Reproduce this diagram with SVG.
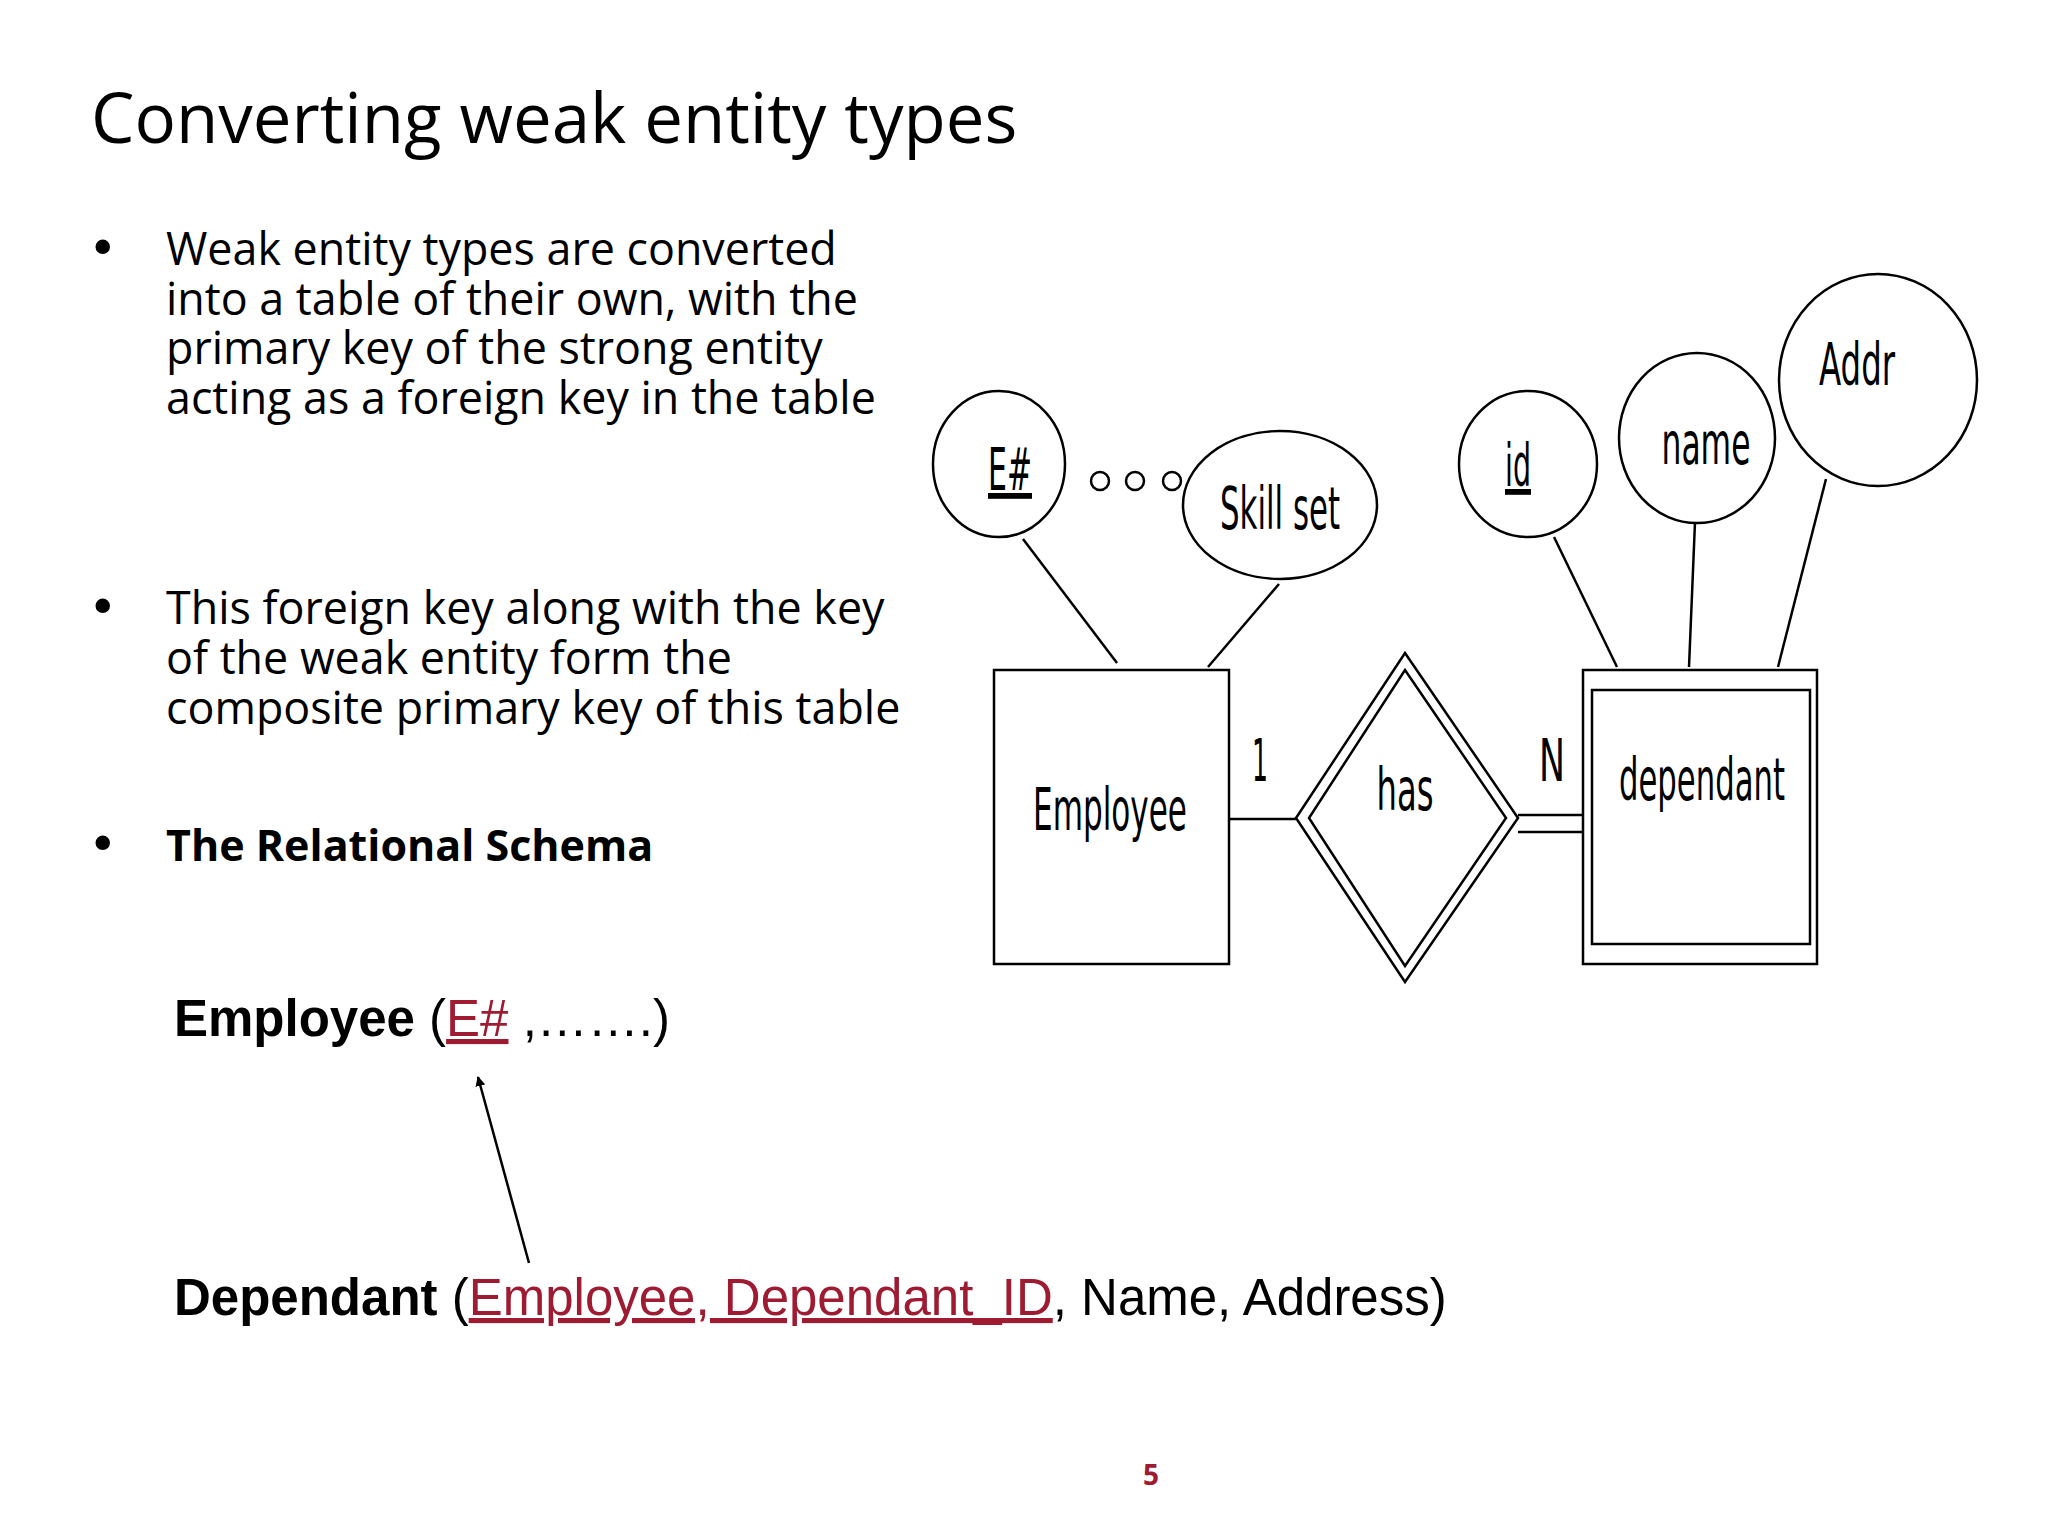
<svg xmlns="http://www.w3.org/2000/svg" width="2048" height="1536" viewBox="0 0 2048 1536">
<style>
.t{font-family:"Open Sans","Noto Sans",sans-serif;fill:#000}
.b{font-family:"Open Sans","Noto Sans",sans-serif;font-size:44.8px}
.bl{font-family:"DejaVu Sans",sans-serif;font-size:50px}
.a{font-family:"Liberation Sans",Arial,sans-serif;font-size:51px}
.r{fill:#9e1b32;text-decoration:underline}
.s{fill:none;stroke:#000;stroke-width:2.5}
.e{font-family:"DejaVu Sans","Liberation Sans",sans-serif;font-size:58px;text-anchor:middle}
</style>
<defs><marker id="ah" markerWidth="10" markerHeight="10" refX="9" refY="5" orient="auto" markerUnits="userSpaceOnUse" viewBox="0 0 10 10"><path d="M0,0 L10,5 L0,10 z"/></marker></defs>
<rect width="2048" height="1536" fill="#fff"/>
<text class="t" x="91" y="143" font-size="69">Converting weak entity types</text>
<g class="bl">
<text x="88" y="265">•</text>
<text x="88" y="624">•</text>
<text x="88" y="861">•</text>
</g>
<g class="b">
<text x="166" y="265">Weak entity types are converted</text>
<text x="166" y="315">into a table of their own, with the</text>
<text x="166" y="364">primary key of the strong entity</text>
<text x="166" y="414">acting as a foreign key in the table</text>
<text x="166" y="624">This foreign key along with the key</text>
<text x="166" y="674">of the weak entity form the</text>
<text x="166" y="724">composite primary key of this table</text>
<text x="166" y="861" font-weight="bold" font-size="43">The Relational Schema</text>
</g>
<text class="a" x="174" y="1036"><tspan font-weight="bold">Employee</tspan> (<tspan class="r">E#</tspan> ,…….)</text>
<text class="a" x="174" y="1315"><tspan font-weight="bold">Dependant</tspan> (<tspan class="r">Employee, Dependant_ID</tspan>, Name, Address)</text>
<g id="connectors">
<line x1="529" y1="1263" x2="478" y2="1077" stroke="#000" stroke-width="2.5" marker-end="url(#ah)"/>
<line class="s" x1="1229" y1="819" x2="1296" y2="819"/>
<line class="s" x1="1518" y1="815" x2="1583" y2="815"/>
<line class="s" x1="1518" y1="832" x2="1583" y2="832"/>
<line class="s" x1="1023" y1="539" x2="1117" y2="663"/>
<line class="s" x1="1279" y1="584" x2="1208" y2="667"/>
<line class="s" x1="1554" y1="537" x2="1617" y2="667"/>
<line class="s" x1="1695" y1="522" x2="1689" y2="667"/>
<line class="s" x1="1826" y1="479" x2="1778" y2="667"/>
<text class="e" x="1260" y="781" textLength="16" lengthAdjust="spacingAndGlyphs">1</text>
<text class="e" x="1552" y="781" textLength="26" lengthAdjust="spacingAndGlyphs">N</text>
</g>
<g id="employee"><rect class="s" x="994" y="670" width="235" height="294" stroke-width="3.5"/><text class="e" x="1110" y="830" textLength="154" lengthAdjust="spacingAndGlyphs">Employee</text></g>
<g id="has"><polygon class="s" points="1405,653 1518,818 1405,982 1296,818"/><polygon class="s" points="1405,670 1506,818 1405,966 1309,818"/><text class="e" x="1405" y="810" textLength="57" lengthAdjust="spacingAndGlyphs">has</text></g>
<g id="dependant"><rect class="s" x="1583" y="670" width="234" height="294" stroke-width="3.5"/><rect class="s" x="1592" y="690" width="218" height="254" stroke-width="3.5"/><text class="e" x="1702" y="800" textLength="166" lengthAdjust="spacingAndGlyphs">dependant</text></g>
<g id="eno"><ellipse class="s" cx="999" cy="464" rx="66" ry="73"/><text class="e" x="1010" y="490" textLength="44" lengthAdjust="spacingAndGlyphs" text-decoration="underline">E#</text></g>
<g id="dots"><circle class="s" cx="1100" cy="481" r="9"/><circle class="s" cx="1135" cy="481" r="9"/><circle class="s" cx="1172" cy="481" r="9"/></g>
<g id="skill"><ellipse class="s" cx="1280" cy="505" rx="97" ry="74"/><text class="e" x="1280" y="529" textLength="120" lengthAdjust="spacingAndGlyphs">Skill set</text></g>
<g id="id"><ellipse class="s" cx="1528" cy="464" rx="69" ry="73"/><text class="e" x="1518" y="486" textLength="26" lengthAdjust="spacingAndGlyphs" text-decoration="underline">id</text></g>
<g id="name"><ellipse class="s" cx="1697" cy="438" rx="78" ry="85"/><text class="e" x="1706" y="464" textLength="89" lengthAdjust="spacingAndGlyphs">name</text></g>
<g id="addr"><ellipse class="s" cx="1878" cy="380" rx="99" ry="106"/><text class="e" x="1857" y="385" textLength="76" lengthAdjust="spacingAndGlyphs">Addr</text></g>
<text x="1151" y="1485" font-family="Open Sans,sans-serif" font-weight="bold" font-size="28" fill="#9e1b32" text-anchor="middle">5</text>
</svg>
